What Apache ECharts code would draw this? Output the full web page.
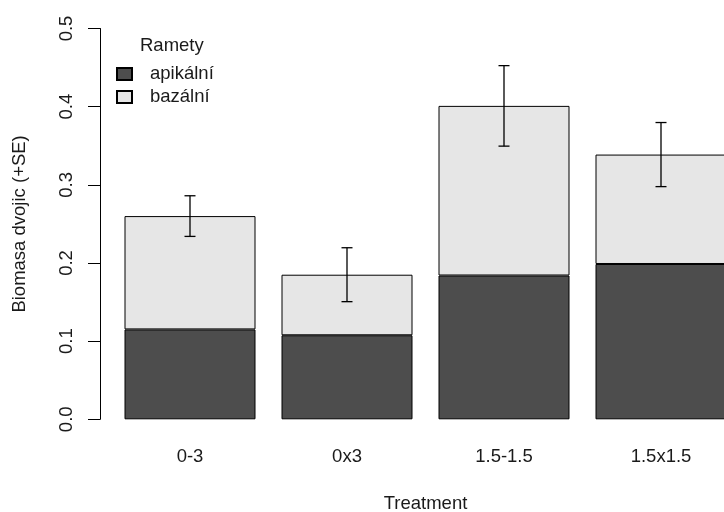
<!DOCTYPE html>
<html>
<head>
<meta charset="utf-8">
<script src="https://cdn.jsdelivr.net/npm/echarts@6/dist/echarts.min.js"></script>
<style>html,body{margin:0;padding:0;background:#fff}#c{width:724px;height:512px}</style>
</head>
<body>
<div id="c"></div>
<script>
const categories = ['0-3', '0x3', '1.5-1.5', '1.5x1.5'];
const apikalni = [0.115, 0.1075, 0.184, 0.1987];
const bazalni = [0.145, 0.0775, 0.217, 0.140];
const se = [0.026, 0.0345, 0.0515, 0.041];
const yTickLabels = ['0.0', '0.1', '0.2', '0.3', '0.4', '0.5'];

const FONT = 'Liberation Sans, Arial, sans-serif';
const TXT = '#1a1a1a';
const FS = 18.5;

const errData = categories.map((c, i) => {
  const tot = apikalni[i] + bazalni[i];
  return [i, tot - se[i], tot + se[i]];
});

const chart = echarts.init(document.getElementById('c'), null, {renderer: 'canvas'});
chart.setOption({
  animation: false,
  backgroundColor: '#ffffff',
  title: {
    text: 'Ramety', left: 140, top: 36.5, padding: 0,
    textStyle: {fontFamily: FONT, fontSize: FS, fontWeight: 'normal', color: TXT}
  },
  legend: {
    orient: 'vertical', left: 116, top: 64.5, padding: 0,
    itemWidth: 15, itemHeight: 12, itemGap: 4,
    icon: 'rect',
    data: ['apikální', 'bazální'],
    textStyle: {fontFamily: FONT, fontSize: FS, color: TXT, lineHeight: 18, padding: [0, 0, 0, 13]}
  },
  grid: {left: 111.5, top: 28.5, width: 628, height: 390.8, containLabel: false, outerBoundsMode: 'none'},
  xAxis: {
    type: 'category', data: categories,
    axisLine: {show: false}, axisTick: {show: false},
    axisLabel: {fontFamily: FONT, fontSize: FS, color: TXT, margin: 28},
    name: 'Treatment', nameLocation: 'middle', nameGap: 75,
    nameTextStyle: {fontFamily: FONT, fontSize: FS, color: TXT}
  },
  yAxis: {
    type: 'value', min: 0, max: 0.5, interval: 0.1, offset: 11.5,
    splitLine: {show: false},
    axisLine: {show: true, lineStyle: {color: '#000', width: 1}},
    axisTick: {show: true, length: 12, lineStyle: {color: '#000'}},
    axisLabel: {
      rotate: 90, margin: 24, fontFamily: FONT, fontSize: FS, color: TXT,
      formatter: (v) => yTickLabels[Math.round(v * 10)]
    },
    name: 'Biomasa dvojic (+SE)', nameLocation: 'middle', nameGap: 71,
    nameTextStyle: {fontFamily: FONT, fontSize: FS, color: TXT}
  },
  series: [
    {
      name: 'apikální', type: 'bar', stack: 's', data: apikalni, barWidth: 131,
      itemStyle: {color: '#4d4d4d', borderColor: '#000', borderWidth: 1}
    },
    {
      name: 'bazální', type: 'bar', stack: 's', data: bazalni, barWidth: 131,
      itemStyle: {color: '#e6e6e6', borderColor: '#000', borderWidth: 1}
    },
    {
      name: 'se', type: 'custom', data: errData, z: 10,
      renderItem: function (params, api) {
        const x = api.value(0);
        const lo = api.coord([x, api.value(1)]);
        const hi = api.coord([x, api.value(2)]);
        const hw = 5.5;
        const st = {stroke: '#000', lineWidth: 1.3};
        return {
          type: 'group',
          children: [
            {type: 'line', shape: {x1: lo[0], y1: lo[1], x2: hi[0], y2: hi[1]}, style: st},
            {type: 'line', shape: {x1: lo[0] - hw, y1: lo[1], x2: lo[0] + hw, y2: lo[1]}, style: st},
            {type: 'line', shape: {x1: hi[0] - hw, y1: hi[1], x2: hi[0] + hw, y2: hi[1]}, style: st}
          ]
        };
      }
    }
  ]
});
</script>
</body>
</html>
